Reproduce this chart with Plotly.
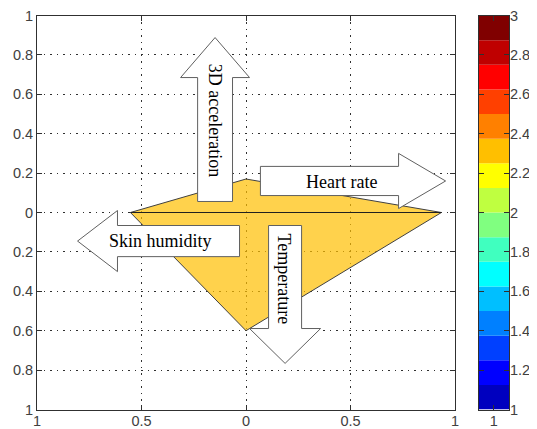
import numpy as np
import plotly.graph_objects as go

# ---- data ----
categories = ["Heart rate", "3D acceleration", "Skin humidity", "Temperature"]
angles_deg = [0, 90, 180, 270]
values = [0.935, 0.17, 0.553, 0.6]

x_tickvals = [-1, -0.5, 0, 0.5, 1]
x_ticktext = ["1", "0.5", "0", "0.5", "1"]
y_tickvals = [-1, -0.8, -0.6, -0.4, -0.2, 0, 0.2, 0.4, 0.6, 0.8, 1]
y_ticktext = ["1", "0.8", "0.6", "0.4", "0.2", "0", "0.2", "0.4", "0.6", "0.8", "1"]

cbar_edges = [1 + 0.125 * i for i in range(17)]
cbar_colors = [
    "rgb(0,0,191)", "rgb(0,0,255)", "rgb(0,64,255)", "rgb(0,128,255)",
    "rgb(0,191,255)", "rgb(0,255,255)", "rgb(64,255,191)", "rgb(128,255,128)",
    "rgb(191,255,64)", "rgb(255,255,0)", "rgb(255,191,0)", "rgb(255,128,0)",
    "rgb(255,64,0)", "rgb(255,0,0)", "rgb(191,0,0)", "rgb(128,0,0)",
]
cbar_tickvals = [1, 1.2, 1.4, 1.6, 1.8, 2, 2.2, 2.4, 2.6, 2.8, 3]
cbar_ticktext = ["1", "1.2", "1.4", "1.6", "1.8", "2", "2.2", "2.4", "2.6", "2.8", "3"]

# arrow specs: (label, direction, center across, shaft start, head base, tip, shaft half, head half, text pos, text angle)
arrows = [
    ("3D acceleration", "up", -0.148, 0.056, 0.685, 0.888, 0.0835, 0.165, (-0.148, 0.47), 90),
    ("Temperature", "down", 0.187, -0.066, -0.589, -0.766, 0.079, 0.17, (0.18, -0.338), 90),
    ("Heart rate", "right", 0.16, 0.069, 0.730, 0.955, 0.074, 0.14, (0.457, 0.155), 0),
    ("Skin humidity", "left", -0.145, -0.031, -0.615, -0.806, 0.079, 0.155, (-0.409, -0.147), 0),
]

# page offset: the html body has an 8px margin
W, H = 529, 421
OFF = 8

fig = go.Figure()

# polygon
ang = np.deg2rad(angles_deg)
px_ = list(np.array(values) * np.cos(ang))
py_ = list(np.array(values) * np.sin(ang))
fig.add_trace(go.Scatter(
    x=px_ + [px_[0]], y=py_ + [py_[0]], mode="lines", fill="toself",
    fillcolor="rgba(255,191,0,0.7)", line=dict(color="#404040", width=1),
    hoverinfo="skip", showlegend=False, xaxis="x", yaxis="y"))
# horizontal axis line inside the polygon
fig.add_trace(go.Scatter(
    x=[px_[2], px_[0]], y=[0, 0], mode="lines",
    line=dict(color="#202020", width=1), hoverinfo="skip", showlegend=False))


def arrow_poly(direction, c, s0, hb, tip, sh, hh):
    along = [s0, hb, hb, tip, hb, hb, s0, s0]
    across = [c - sh, c - sh, c - hh, c, c + hh, c + sh, c + sh, c - sh]
    if direction in ("up", "down"):
        return across, along
    return along, across


annotations = []
for label, d, c, s0, hb, tip, sh, hh, tpos, tang in arrows:
    ax_, ay_ = arrow_poly(d, c, s0, hb, tip, sh, hh)
    fig.add_trace(go.Scatter(
        x=ax_, y=ay_, mode="lines", fill="toself", fillcolor="white",
        line=dict(color="#606060", width=1), hoverinfo="skip", showlegend=False))
    annotations.append(dict(
        x=tpos[0], y=tpos[1], xref="x", yref="y", text=label, showarrow=False,
        textangle=tang, font=dict(family="Liberation Serif", size=18, color="black")))

# colorbar as stacked bars
fig.add_trace(go.Bar(
    x=[1] * 16, y=[cbar_edges[i + 1] - cbar_edges[i] for i in range(16)],
    base=cbar_edges[:-1], marker=dict(color=cbar_colors, line=dict(width=0)),
    width=1, xaxis="x2", yaxis="y2", hoverinfo="skip", showlegend=False))

tickfont = dict(family="Liberation Sans", size=14.5, color="#404040")
ax_common = dict(showline=True, linecolor="#303030", linewidth=1, mirror="ticks",
                 ticks="inside", ticklen=5, tickcolor="#303030", zeroline=False,
                 tickfont=tickfont, automargin=False, ticklabeloverflow="allow")


def xd(a, b):
    return [(a - OFF) / W, (b - OFF) / W]


def yd(top, bottom):
    return [(H - (bottom - OFF)) / H, (H - (top - OFF)) / H]


fig.update_layout(
    width=W, height=H, margin=dict(l=0, r=0, t=0, b=0),
    paper_bgcolor="white", plot_bgcolor="white",
    barmode="overlay", annotations=annotations,
    xaxis=dict(domain=xd(37, 455), range=[-1, 1], tickvals=x_tickvals,
               ticktext=x_ticktext, showgrid=True, gridcolor="#303030",
               griddash="1.5px,5px", gridwidth=1, ticklabelstandoff=-2, **ax_common),
    yaxis=dict(domain=yd(15.5, 409.5), range=[-1, 1], tickvals=y_tickvals,
               ticktext=y_ticktext, showgrid=True, gridcolor="#303030",
               griddash="1.5px,5px", gridwidth=1, **ax_common),
    xaxis2=dict(domain=xd(478.5, 509), range=[0.5, 1.5], tickvals=[1],
                ticktext=["1"], showgrid=False, anchor="y2", ticklabelstandoff=-2,
                **ax_common),
    yaxis2=dict(domain=yd(15.5, 409.5), range=[1, 3], tickvals=cbar_tickvals,
                ticktext=cbar_ticktext, side="right", showgrid=False, anchor="x2",
                ticklabelstandoff=-3, **ax_common),
)

fig.write_html("out.html")
